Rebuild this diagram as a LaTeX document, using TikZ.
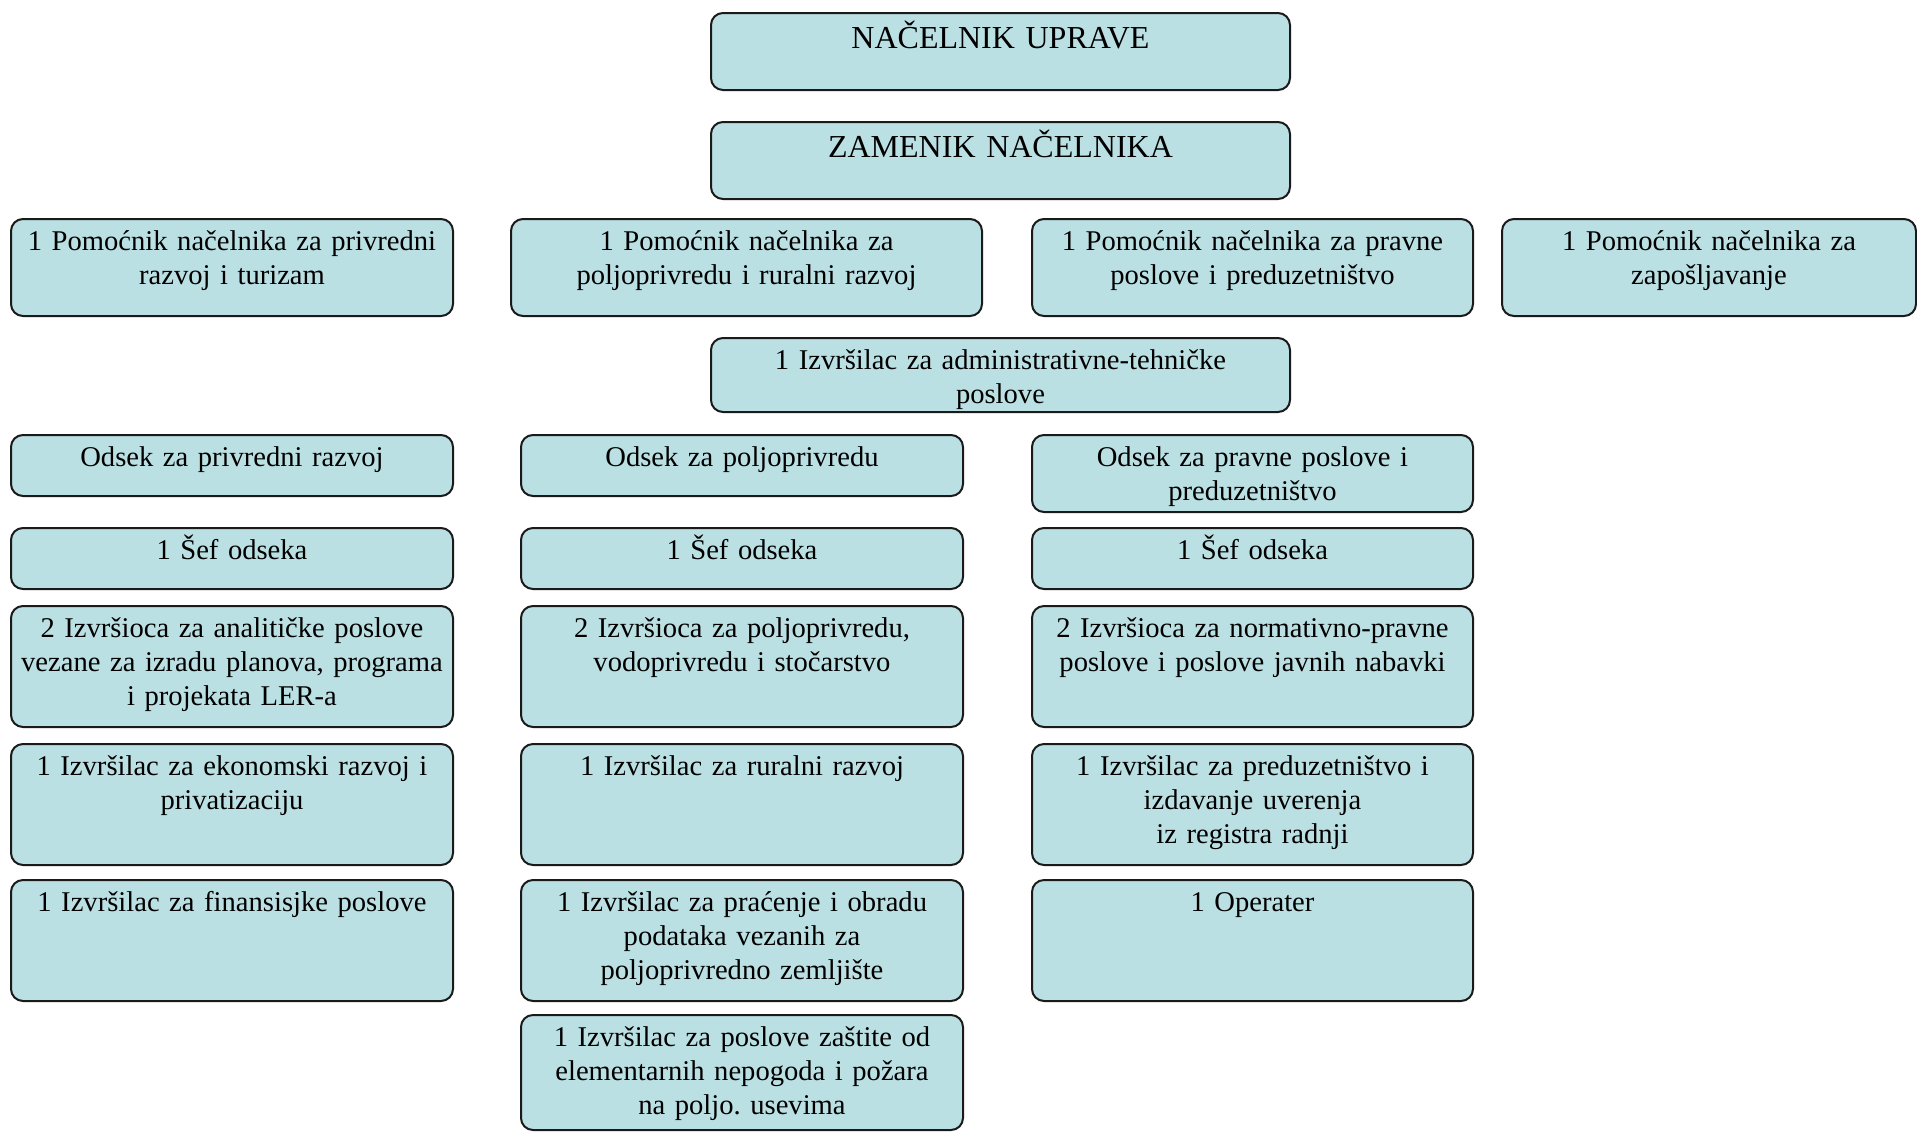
\documentclass[tikz,border=0pt]{standalone}
\usepackage{fontspec}
\setmainfont{Liberation Serif}
\usepackage{tikz}
\definecolor{boxfill}{HTML}{BBE0E3}
\definecolor{boxline}{HTML}{1A1A1A}
\frenchspacing
\begin{document}
\begin{tikzpicture}[x=0.5pt,y=0.5pt,
  box/.style={draw=boxline, fill=boxfill, line width=1pt, rounded corners=6pt,
    inner sep=0pt, anchor=north west, align=center, text height=15.5pt,
    font=\fontsize{14.3}{17}\selectfont},
  title/.style={font=\fontsize{16}{19}\selectfont, text height=17.5pt, text depth=21pt},
  wide/.style={text width=289.5pt},
  colA/.style={text width=221pt},
  colB/.style={text width=221pt},
  colC/.style={text width=220.5pt},
  colD/.style={text width=207pt},
  head/.style={text depth=23pt},
  pom/.style={text depth=33pt},
  adm/.style={text depth=21.5pt},
  low/.style={text depth=15pt},
  big/.style={text depth=45pt}]
\useasboundingbox (0,0) rectangle (1917,-1131);
% top
\node [box,wide,title] (nacelnik) at (710,-12) {NAČELNIK UPRAVE};
\node [box,wide,title] (zamenik) at (710,-121) {ZAMENIK NAČELNIKA};
% pomocnici
\node [box,colA,pom] (pomA) at (10,-218) {1 Pomoćnik načelnika za privredni\\razvoj i turizam};
\node [box,pom,text width=235.5pt] (pomB) at (510,-218) {1 Pomoćnik načelnika za\\poljoprivredu i ruralni razvoj};
\node [box,colC,pom] (pomC) at (1031,-218) {1 Pomoćnik načelnika za pravne\\poslove i preduzetništvo};
\node [box,colD,pom] (pomD) at (1501,-218) {1 Pomoćnik načelnika za\\zapošljavanje};
\node [box,wide,adm] (admin) at (710,-337) {1 Izvršilac za administrativne-tehničke\\poslove};
% odseci
\node [box,colA,low] (odsekA) at (10,-434) {Odsek za privredni razvoj};
\node [box,colB,low] (odsekB) at (520,-434) {Odsek za poljoprivredu};
\node [box,colC,head] (odsekC) at (1031,-434) {Odsek za pravne poslove i\\preduzetništvo};
\node [box,colA,low] (sefA) at (10,-527) {1 Šef odseka};
\node [box,colB,low] (sefB) at (520,-527) {1 Šef odseka};
\node [box,colC,low] (sefC) at (1031,-527) {1 Šef odseka};
% izvrsioci
\node [box,colA,big] (izvA1) at (10,-605) {2 Izvršioca za analitičke poslove\\vezane za izradu planova, programa\\i projekata LER-a};
\node [box,colB,big] (izvB1) at (520,-605) {2 Izvršioca za poljoprivredu,\\vodoprivredu i stočarstvo};
\node [box,colC,big] (izvC1) at (1031,-605) {2 Izvršioca za normativno-pravne\\poslove i poslove javnih nabavki};
\node [box,colA,big] (izvA2) at (10,-743) {1 Izvršilac za ekonomski razvoj i\\privatizaciju};
\node [box,colB,big] (izvB2) at (520,-743) {1 Izvršilac za ruralni razvoj};
\node [box,colC,big] (izvC2) at (1031,-743) {1 Izvršilac za preduzetništvo i\\izdavanje uverenja\\iz registra radnji};
\node [box,colA,big] (izvA3) at (10,-879) {1 Izvršilac za finansisjke poslove};
\node [box,colB,big] (izvB3) at (520,-879) {1 Izvršilac za praćenje i obradu\\podataka vezanih za\\poljoprivredno zemljište};
\node [box,colC,big] (izvC3) at (1031,-879) {1 Operater};
\node [box,colB,text depth=42pt] (izvB4) at (520,-1014) {1 Izvršilac za poslove zaštite od\\elementarnih nepogoda i požara\\na poljo. usevima};
\end{tikzpicture}
\end{document}
